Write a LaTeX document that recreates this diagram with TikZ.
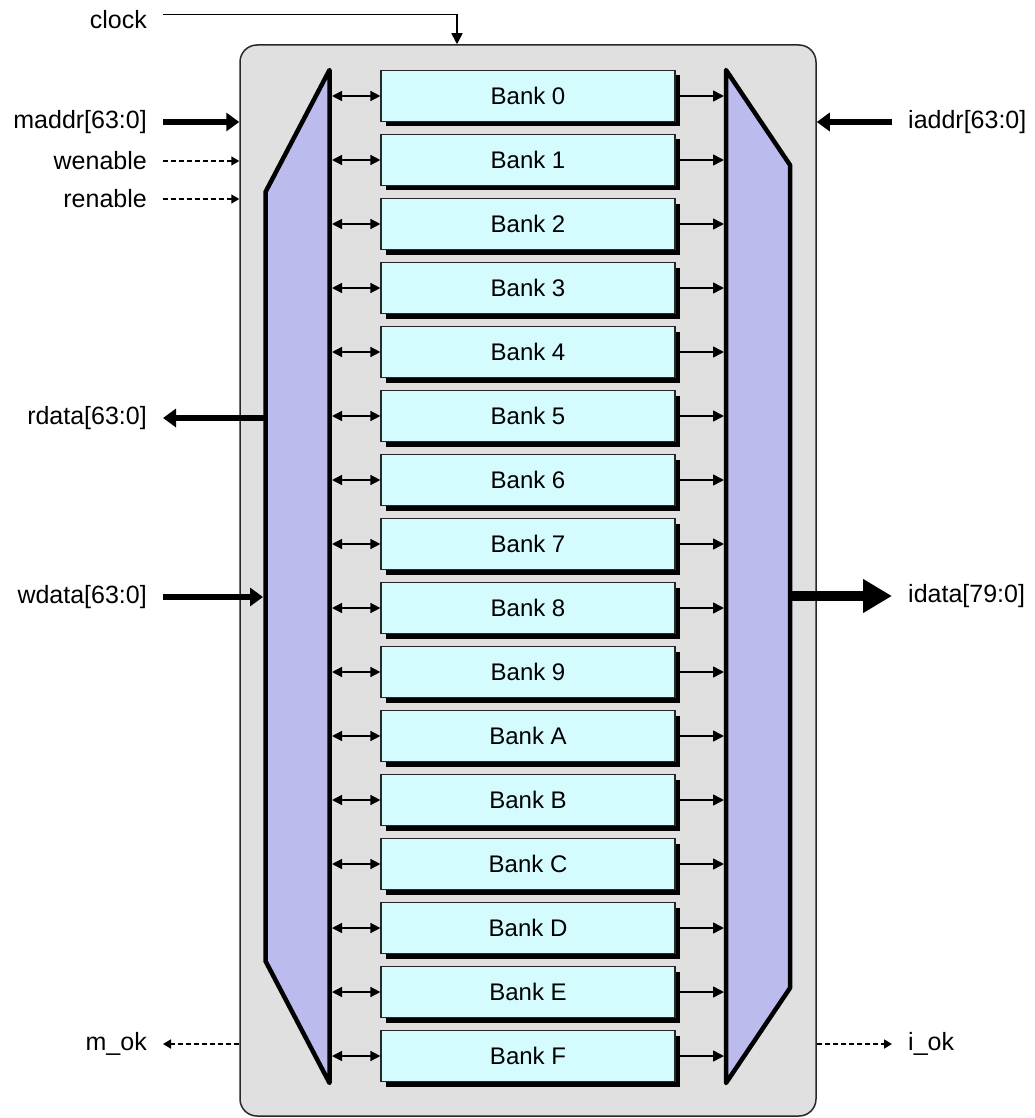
\documentclass[tikz,border=0pt]{standalone}
\usepackage{fontspec}
\setmainfont{Liberation Sans}
\usetikzlibrary{arrows.meta,shadows}
\definecolor{chipgray}{RGB}{224,224,224}
\definecolor{muxblue}{RGB}{187,187,238}
\definecolor{bankcyan}{RGB}{212,252,255}
\definecolor{edgegray}{RGB}{40,40,40}
\begin{document}
\begin{tikzpicture}[x=1pt,y=-1pt,
  lbl/.style={font=\fontsize{25}{30}\selectfont, inner sep=0pt},
  chipbox/.style={draw=edgegray, line width=1.5pt, fill=chipgray, rounded corners=17pt,
    minimum width=576pt, minimum height=1071pt, inner sep=0pt},
  muxshape/.style={draw=black, fill=muxblue, line width=4.5pt, line join=round},
  bankbox/.style={draw=edgegray, line width=1.2pt, fill=bankcyan,
    minimum width=294pt, minimum height=51pt, inner sep=0pt,
    font=\fontsize{24}{28}\selectfont,
    drop shadow={shadow xshift=5pt, shadow yshift=-5pt, fill=black, opacity=1}},
  bus/.style={line width=6pt, -{Triangle[length=13pt,width=18pt]}},
  widebus/.style={line width=10pt, -{Triangle[length=29pt,width=32pt]}},
  ctrl/.style={line width=1.7pt, dash pattern=on 5pt off 3pt, -{Triangle[length=8pt,width=9pt]}},
  link/.style={line width=1.5pt, {Triangle[length=10pt,width=10pt]}-{Triangle[length=10pt,width=10pt]}},
  outlink/.style={line width=1.5pt, -{Triangle[length=11pt,width=11pt]}},
  clk/.style={line width=1.6pt, -{Triangle[length=11pt,width=11pt]}}
]
\useasboundingbox (0,0) rectangle (1035,1118);

% chip outline
\node[chipbox] (chip) at (528,580.5) {};

% multiplexers
\draw[muxshape] (329.5,70) -- (329.5,1083) -- (265.5,961) -- (265.5,192) -- cycle;
\draw[muxshape] (726,70) -- (790,165) -- (790,988) -- (726,1083) -- cycle;
\coordinate (lmuxL) at (265.5,0);
\coordinate (lmuxLo) at (263,0);
\coordinate (lmuxR) at (332,0);
\coordinate (rmuxL) at (724,0);
\coordinate (rmuxR) at (790,0);

% banks
\foreach \n [count=\i from 0] in {0,1,2,3,4,5,6,7,8,9,A,B,C,D,E,F}{
  \node[bankbox] (b\n) at (528,96+64*\i) {Bank \n};
  \draw[link] (b\n.west -| lmuxR) -- (b\n.west);
  \draw[outlink] (b\n.east) -- (b\n.east -| rmuxL);
}

% left labels
\node[lbl, anchor=east] (clock) at (147,20) {clock};
\node[lbl, anchor=east] (maddr) at (147,122) {maddr[63:0]};
\node[lbl, anchor=east] (wen) at (147,161) {wenable};
\node[lbl, anchor=east] (ren) at (147,199) {renable};
\node[lbl, anchor=east] (rdata) at (147,418) {rdata[63:0]};
\node[lbl, anchor=east] (wdata) at (147,597) {wdata[63:0]};
\node[lbl, anchor=east] (mok) at (147,1044) {m\_ok};

% right labels
\node[lbl, anchor=west] (iaddr) at (908,122) {iaddr[63:0]};
\node[lbl, anchor=west] (idata) at (908,596) {idata[79:0]};
\node[lbl, anchor=west] (iok) at (908,1044) {i\_ok};

% clock
\coordinate (clk0) at (163,14.5);
\coordinate (clk1) at (457,14.5);
\draw[clk] (clk0) -- (clk1) -- (clk1 |- chip.north);

% left signals
\draw[bus] ([xshift=16pt]maddr.east) -- (maddr.east -| chip.west);
\draw[ctrl] ([xshift=16pt]wen.east) -- (wen.east -| chip.west);
\draw[ctrl] ([xshift=16pt]ren.east) -- (ren.east -| chip.west);
\draw[bus] (rdata.east -| lmuxL) -- ([xshift=16pt]rdata.east);
\draw[bus] ([xshift=16pt]wdata.east) -- (wdata.east -| lmuxLo);
\draw[ctrl] (mok.east -| chip.west) -- ([xshift=16pt]mok.east);

% right signals
\draw[bus] ([xshift=-16pt]iaddr.west) -- (iaddr.west -| chip.east);
\draw[widebus] (idata.west -| rmuxR) -- ([xshift=-16pt]idata.west);
\draw[ctrl] (iok.west -| chip.east) -- ([xshift=-16pt]iok.west);
\end{tikzpicture}
\end{document}
